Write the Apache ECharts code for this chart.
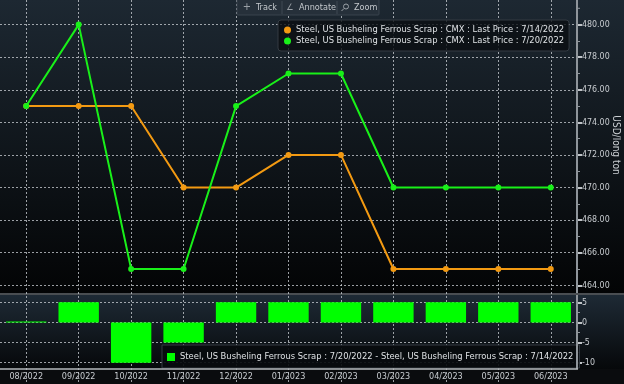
<!DOCTYPE html>
<html><head><meta charset="utf-8">
<script src="https://cdn.jsdelivr.net/npm/echarts@6/dist/echarts.min.js"></script>
<style>html,body{margin:0;padding:0;background:#000;}#c{width:624px;height:384px;}</style>
</head><body><div id="c"></div>
<script>
const categories = ['08/2022','09/2022','10/2022','11/2022','12/2022','01/2023','02/2023','03/2023','04/2023','05/2023','06/2023'];
const price0714 = [475,475,475,470,470,472,472,465,465,465,465];
const price0720 = [475,480,465,465,475,477,477,470,470,470,470];
const spread = [0,5,-10,-5,5,5,5,5,5,5,5];
const seriesNames = ['Steel, US Busheling Ferrous Scrap : CMX : Last Price : 7/14/2022','Steel, US Busheling Ferrous Scrap : CMX : Last Price : 7/20/2022'];
const spreadName = 'Steel, US Busheling Ferrous Scrap : 7/20/2022 - Steel, US Busheling Ferrous Scrap : 7/14/2022';
const unitName = 'USD/long ton';

const FONT = "'DejaVu Sans Condensed','DejaVu Sans',sans-serif";
const W=624,H=384, AX=577;
const grid = 'rgba(205,210,215,0.75)';
const chart = echarts.init(document.getElementById('c'));
const catW = AX/categories.length;
chart.setOption({
  backgroundColor:'#0a0c0e',
  animation:false,
  textStyle:{fontFamily:FONT},
  graphic:[
    {type:'rect',z:-100,shape:{x:0,y:0,width:W,height:293},style:{fill:new echarts.graphic.LinearGradient(0,0,0,1,[{offset:0,color:'#1d2832'},{offset:1,color:'#030405'}])}},
    {type:'rect',z:-100,shape:{x:0,y:293,width:W,height:2},style:{fill:'#4a4e52'}},
    {type:'rect',z:-100,shape:{x:0,y:295,width:W,height:74},style:{fill:new echarts.graphic.LinearGradient(0,0,0,1,[{offset:0,color:'#1e2a35'},{offset:1,color:'#06080a'}])}},
    {type:'line',z:50,shape:{x1:AX,y1:0,x2:AX,y2:293},style:{stroke:'#8f959b',lineWidth:2}},
    {type:'line',z:50,shape:{x1:AX,y1:295,x2:AX,y2:369},style:{stroke:'#8f959b',lineWidth:2}},
    {type:'line',z:50,shape:{x1:0,y1:369,x2:AX+1,y2:369},style:{stroke:'#b4b8bc',lineWidth:1.5}},
    {type:'line',z:50,shape:{x1:AX,y1:8.3,x2:AX+3,y2:8.3},style:{stroke:'#8f959b',lineWidth:1}},
    {type:'text',z:50,x:616,y:145,rotation:-Math.PI/2,style:{text:unitName,fill:'#c8ccd0',font:"10px "+FONT,align:'center',verticalAlign:'middle'}},
    // toolbar
    {type:'rect',z:60,shape:{x:237,y:-1,width:142,height:16,r:1},style:{fill:'#26303a',stroke:'#39434d',lineWidth:1}},
    {type:'line',z:61,shape:{x1:282,y1:1,x2:282,y2:14},style:{stroke:'#3f4953'}},
    {type:'line',z:61,shape:{x1:337,y1:1,x2:337,y2:14},style:{stroke:'#3f4953'}},
    {type:'text',z:61,x:247,y:7.5,style:{text:'+',fill:'#9aa0a6',font:"11px "+FONT,align:'center',verticalAlign:'middle'}},
    {type:'text',z:61,x:256,y:7.5,style:{text:'Track',fill:'#c4c8cc',font:"9px "+FONT,verticalAlign:'middle'}},
    {type:'text',z:61,x:290,y:7.5,style:{text:'∠',fill:'#9aa0a6',font:"9px "+FONT,align:'center',verticalAlign:'middle'}},
    {type:'text',z:61,x:299,y:7.5,style:{text:'Annotate',fill:'#c4c8cc',font:"9px "+FONT,verticalAlign:'middle'}},
    {type:'circle',z:61,shape:{cx:346,cy:6.5,r:2.5},style:{fill:'none',stroke:'#9aa0a6',lineWidth:1}},
    {type:'line',z:61,shape:{x1:344,y1:8.5,x2:341.5,y2:11},style:{stroke:'#9aa0a6',lineWidth:1}},
    {type:'text',z:61,x:354,y:7.5,style:{text:'Zoom',fill:'#c4c8cc',font:"9px "+FONT,verticalAlign:'middle'}}
  ],
  legend:[
    {data:seriesNames,left:278,top:20,orient:'vertical',icon:'circle',itemWidth:7,itemHeight:7,itemGap:1,padding:[5,5,5,6],
     backgroundColor:'rgba(10,14,18,0.8)',borderColor:'#343b42',borderWidth:1,borderRadius:3,
     textStyle:{color:'#dfe2e5',fontSize:9.3,lineHeight:10,fontFamily:FONT}},
    {data:[spreadName],left:162,top:345,icon:'rect',itemWidth:8,itemHeight:8,padding:[6,6,5,5],
     backgroundColor:'rgba(8,11,14,0.92)',borderColor:'#343b42',borderWidth:1,
     textStyle:{color:'#dfe2e5',fontSize:9.3,lineHeight:12,fontFamily:FONT}}
  ],
  grid:[
    {left:catW/2,width:AX-catW,top:0,bottom:0},
    {left:0,width:AX,top:24.6,height:260.7},
    {left:0,width:AX,top:302.3,height:60.4}
  ],
  xAxis:[
    {gridIndex:0,type:'value',min:0,max:categories.length-1,interval:1,axisLine:{show:false},axisTick:{show:false},axisLabel:{show:false},
     splitLine:{show:true,lineStyle:{color:grid,type:[2,2],width:1}}},
    {gridIndex:1,type:'category',data:categories,boundaryGap:true,axisLine:{show:false},axisTick:{show:false},axisLabel:{show:false},splitLine:{show:false}},
    {gridIndex:2,type:'category',data:categories,boundaryGap:true,offset:6.6,axisLine:{show:false},axisTick:{show:false},
     axisLabel:{color:'#c8ccd0',fontSize:9,margin:3,fontFamily:FONT},splitLine:{show:false}}
  ],
  yAxis:[
    {gridIndex:0,type:'value',show:false},
    {gridIndex:1,type:'value',position:'right',min:464,max:480,interval:2,
     axisLine:{show:false},axisTick:{show:true,length:5,lineStyle:{color:'#c0c4c8',width:2}},
     minorTick:{show:true,splitNumber:2,length:3,lineStyle:{color:'#8f959b',width:1}},
     axisLabel:{color:'#c8ccd0',fontSize:8.8,margin:5,fontFamily:FONT,formatter:v=>v.toFixed(2)},
     splitLine:{show:true,lineStyle:{color:grid,type:[2,2],width:1}}},
    {gridIndex:2,type:'value',position:'right',min:-10,max:5,interval:5,
     axisLine:{show:false},axisTick:{show:true,length:5,lineStyle:{color:'#c0c4c8',width:2}},
     minorTick:{show:true,splitNumber:2,length:3,lineStyle:{color:'#8f959b',width:1}},
     axisLabel:{color:'#c8ccd0',fontSize:8.8,margin:5,fontFamily:FONT},
     splitLine:{show:true,lineStyle:{color:grid,type:[2,2],width:1}}}
  ],
  series:[
    {name:seriesNames[0],type:'line',xAxisIndex:1,yAxisIndex:1,data:price0714,symbol:'circle',symbolSize:6,
     itemStyle:{color:'#f39a12'},lineStyle:{color:'#f39a12',width:2},z:5},
    {name:seriesNames[1],type:'line',xAxisIndex:1,yAxisIndex:1,data:price0720,symbol:'circle',symbolSize:6,
     itemStyle:{color:'#19f019'},lineStyle:{color:'#19f019',width:2},z:6},
    {name:spreadName,type:'bar',xAxisIndex:2,yAxisIndex:2,data:spread,barWidth:'77%',barMinHeight:1,itemStyle:{color:'#00ff00'},z:5}
  ]
});
</script></body></html>
